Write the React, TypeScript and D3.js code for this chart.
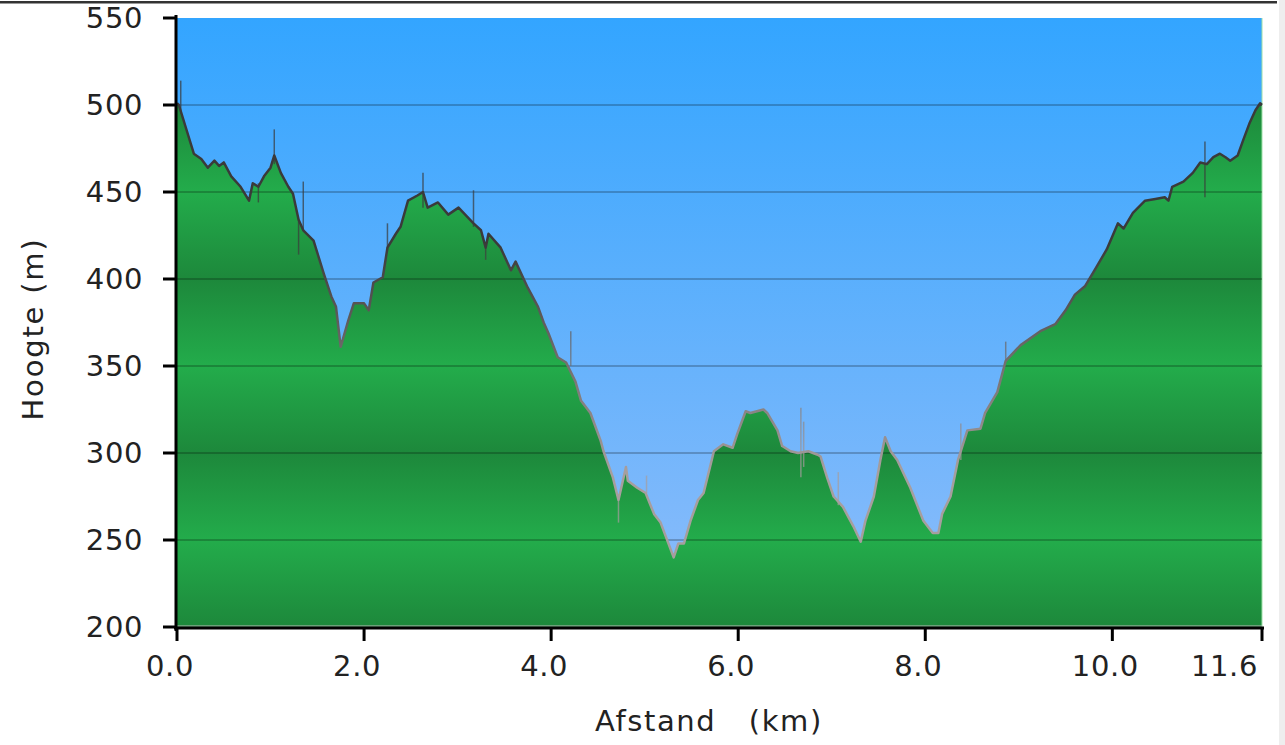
import * as d3 from "d3";
import { useMemo } from "react";

// profile: distance (km) / elevation (m)
const distance = [
  0.0, 0.02, 0.18, 0.26, 0.33, 0.4, 0.45, 0.5, 0.58, 0.68, 0.77, 0.81, 0.87, 0.93, 1.0, 1.04, 1.11, 1.19,
  1.24, 1.3, 1.35, 1.46, 1.57, 1.65, 1.7, 1.75, 1.83, 1.89, 2.0, 2.05, 2.1, 2.2, 2.25, 2.34, 2.39, 2.47,
  2.57, 2.63, 2.68, 2.79, 2.9, 3.01, 3.17, 3.25, 3.3, 3.33, 3.46, 3.57, 3.62, 3.75, 3.86, 3.92, 3.97, 4.07,
  4.16, 4.26, 4.32, 4.42, 4.53, 4.56, 4.66, 4.72, 4.8, 4.82, 4.92, 5.01, 5.1, 5.17, 5.31, 5.36, 5.42, 5.49,
  5.57, 5.63, 5.74, 5.84, 5.94, 5.99, 6.08, 6.13, 6.27, 6.31, 6.42, 6.47, 6.56, 6.64, 6.75, 6.85, 6.88,
  6.95, 7.02, 7.12, 7.23, 7.31, 7.36, 7.45, 7.52, 7.57, 7.63, 7.7, 7.84, 7.98, 8.08, 8.14, 8.18, 8.27,
  8.35, 8.45, 8.59, 8.64, 8.77, 8.86, 9.02, 9.23, 9.39, 9.5, 9.6, 9.71, 9.82, 9.94, 10.06, 10.12, 10.22,
  10.35, 10.46, 10.56, 10.6, 10.64, 10.76, 10.86, 10.94, 11.01, 11.08, 11.15, 11.21, 11.26, 11.34, 11.4,
  11.47, 11.53, 11.58, 11.6,
];

const elevation = [
  501, 500, 472, 469, 464, 468, 465, 467, 459, 453, 445, 455, 453, 459, 464, 471, 461, 453,
  449, 434, 428, 422, 403, 390, 384, 361, 376, 386, 386, 382, 398, 401, 418, 426, 430, 445,
  448, 450, 441, 444, 437, 441, 432, 428, 418, 426, 418, 405, 410, 395, 384, 375, 369, 355,
  352, 341, 330, 323, 307, 301, 286, 273, 292, 284, 280, 277, 265, 260, 240, 248, 248, 261,
  273, 277, 301, 305, 303, 311, 324, 323, 325, 323, 313, 304, 301, 300, 301, 299, 298,
  286, 275, 269, 258, 249, 261, 275, 296, 309, 301, 296, 280, 261, 254, 254, 265, 275,
  296, 313, 314, 323, 335, 353, 362, 370, 374, 382, 391, 396, 406, 417, 432, 429, 438,
  445, 446, 447, 445, 453, 456, 461, 467, 466, 470, 472, 470, 468, 471, 480,
  490, 497, 501, 500,
];

// GPS spikes: distance, low, high
const spikeKm = [0.04, 0.87, 1.04, 1.3, 1.35, 2.25, 2.63, 3.17, 3.3, 4.21, 4.72, 5.02, 6.67, 6.7, 7.07, 8.38, 8.86, 10.99];
const spikeLow = [495, 444, 466, 414, 428, 418, 441, 430, 411, 350, 260, 277, 286, 292, 270, 296, 353, 447];
const spikeHigh = [514, 455, 486, 434, 456, 432, 461, 451, 420, 370, 273, 287, 326, 318, 289, 317, 364, 479];

const yTicks = [200, 250, 300, 350, 400, 450, 500, 550];
const xTicks = [0, 2, 4, 6, 8, 10, 11.6];

const W = 1285;
const H = 745;
const FONT = "'DejaVu Sans', Verdana, sans-serif";

export default function App() {
  const x = d3.scaleLinear().domain([0, 11.6]).range([177, 1262]);
  const y = d3.scaleLinear().domain([200, 550]).range([627, 18]);

  const points = useMemo(() => distance.map((d, i) => [d, elevation[i]] as [number, number]), []);

  const area = d3
    .area<[number, number]>()
    .x((p) => x(p[0]))
    .y0(y(200))
    .y1((p) => y(p[1]))(points) ?? "";

  const line = d3
    .line<[number, number]>()
    .x((p) => x(p[0]))
    .y((p) => y(p[1]))(points) ?? "";

  return (
    <svg width={W} height={H} style={{ position: "absolute", left: 0, top: 0, background: "#fff" }}>
      <defs>
        <linearGradient id="sky" gradientUnits="userSpaceOnUse" x1="0" y1={y(550)} x2="0" y2={y(200)}>
          <stop offset="0%" stopColor="#33a5ff" />
          <stop offset="100%" stopColor="#8fbdfa" />
        </linearGradient>
        <linearGradient
          id="ground"
          gradientUnits="userSpaceOnUse"
          spreadMethod="reflect"
          x1="0"
          y1={y(250)}
          x2="0"
          y2={y(200)}
        >
          <stop offset="0%" stopColor="#23ac4b" />
          <stop offset="100%" stopColor="#1d883b" />
        </linearGradient>
        <linearGradient id="edge" gradientUnits="userSpaceOnUse" x1="0" y1={y(420)} x2="0" y2={y(290)}>
          <stop offset="0%" stopColor="#3a3a3a" />
          <stop offset="100%" stopColor="#a69e9e" />
        </linearGradient>
      </defs>

      <rect x={0} y={1} width={1277} height={2.5} fill="#333" />
      <rect x={1279} y={0} width={6} height={H} fill="#eeeeee" />

      <rect x={x(0)} y={y(550)} width={x(11.6) - x(0)} height={y(200) - y(550)} fill="url(#sky)" />
      <path d={area} fill="url(#ground)" />
      <line x1={x(11.6)} x2={x(11.6)} y1={y(550)} y2={y(200)} stroke="#9fe0a8" strokeWidth={1} />

      {yTicks.slice(1, -1).map((t) => (
        <line key={t} x1={x(0)} x2={x(11.6)} y1={y(t)} y2={y(t)} stroke="rgba(0,0,0,0.22)" strokeWidth={2} />
      ))}

      {spikeKm.map((k, i) => (
        <line
          key={i}
          x1={x(k)}
          x2={x(k)}
          y1={y(spikeLow[i])}
          y2={y(spikeHigh[i])}
          stroke="url(#edge)"
          strokeWidth={1.5}
          opacity={0.7}
        />
      ))}
      <path d={line} fill="none" stroke="url(#edge)" strokeWidth={2.5} strokeLinejoin="round" />

      <line x1={x(0)} x2={x(11.6)} y1={y(200) - 1} y2={y(200) - 1} stroke="#bbb" strokeWidth={1} />

      {/* y axis */}
      <line x1={176} x2={176} y1={15} y2={631} stroke="#000" strokeWidth={3} />
      {yTicks.map((t) => (
        <g key={t}>
          <line x1={163} x2={176} y1={y(t)} y2={y(t)} stroke="#000" strokeWidth={3} />
          <text
            x={143}
            y={y(t)}
            dy="0.36em"
            textAnchor="end"
            fontFamily={FONT}
            fontSize={29}
            letterSpacing={0.6}
            fill="#222"
          >
            {t}
          </text>
        </g>
      ))}

      {/* x axis */}
      <line x1={174} x2={1264} y1={628} y2={628} stroke="#000" strokeWidth={3} />
      {xTicks.map((t, i) => {
        const last = i === xTicks.length - 1;
        return (
          <g key={t}>
            <line x1={x(t)} x2={x(t)} y1={627} y2={641} stroke="#000" strokeWidth={3} />
            <text
              x={last ? x(t) - 4 : x(t) - 7}
              y={676}
              textAnchor={last ? "end" : "middle"}
              fontFamily={FONT}
              fontSize={29}
              letterSpacing={0.6}
              fill="#222"
            >
              {t.toFixed(1)}
            </text>
          </g>
        );
      })}

      <text
        x={709}
        y={731}
        textAnchor="middle"
        fontFamily={FONT}
        fontSize={29}
        letterSpacing={1.6}
        fill="#222"
        style={{ whiteSpace: "pre" }}
      >
        {"Afstand   (km)"}
      </text>
      <text
        transform="translate(43,329) rotate(-90)"
        textAnchor="middle"
        fontFamily={FONT}
        fontSize={29}
        letterSpacing={1.8}
        fill="#222"
        style={{ whiteSpace: "pre" }}
      >
        {"Hoogte (m)"}
      </text>
    </svg>
  );
}
